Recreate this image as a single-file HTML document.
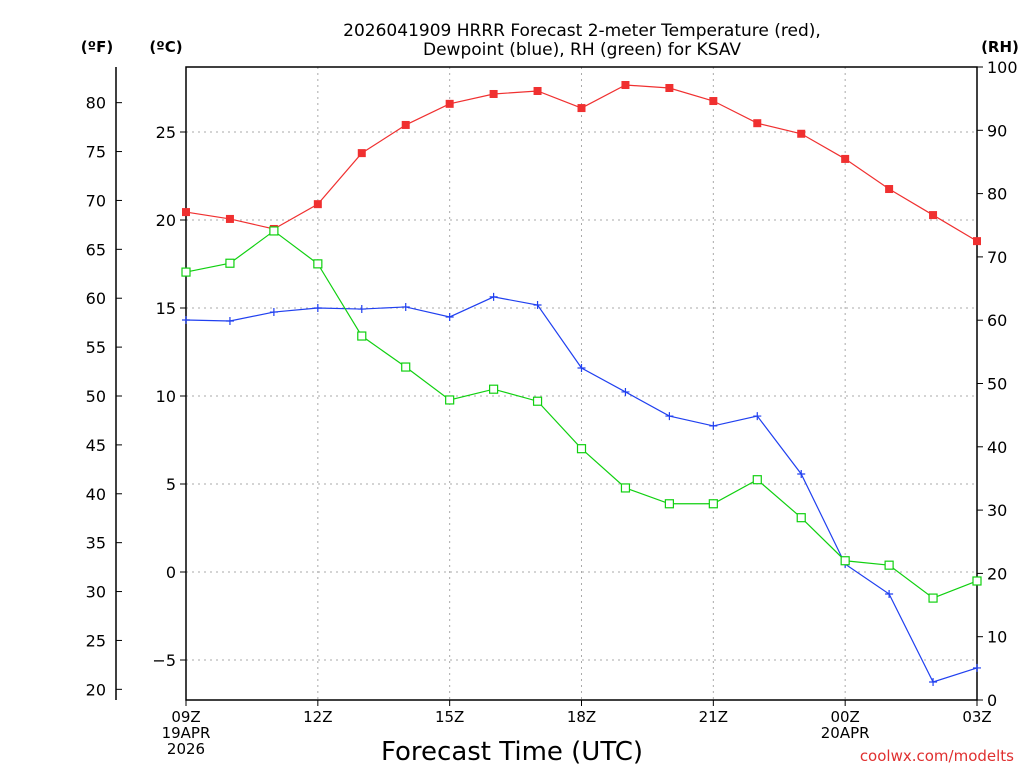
<!DOCTYPE html>
<html><head><meta charset="utf-8"><style>
body{margin:0;background:#fff;}
svg text{font-family:"DejaVu Sans","Liberation Sans",sans-serif;}
</style></head><body>
<svg id="chart" width="1024" height="768" xmlns="http://www.w3.org/2000/svg">
<g id="grid"></g>
<g id="axes"></g>
<g id="series"></g>
<text x="582" y="36" text-anchor="middle" font-size="17">2026041909 HRRR Forecast 2-meter Temperature (red),</text>
<text x="582" y="55" text-anchor="middle" font-size="17">Dewpoint (blue), RH (green) for KSAV</text>
<text x="97" y="52" text-anchor="middle" font-size="15" font-weight="bold">(ºF)</text>
<text x="166" y="52" text-anchor="middle" font-size="15" font-weight="bold">(ºC)</text>
<text x="1000" y="52" text-anchor="middle" font-size="15" font-weight="bold">(RH)</text>
<text x="512" y="760" text-anchor="middle" font-size="26">Forecast Time (UTC)</text>
<text x="1014" y="761" text-anchor="end" font-size="15" fill="#e03030">coolwx.com/modelts</text>
</svg>
<script>
const hours=[0,1,2,3,4,5,6,7,8,9,10,11,12,13,14,15,16,17,18];
const tempC=[20.45,20.06,19.49,20.9,23.8,25.4,26.6,27.16,27.33,26.36,27.67,27.5,26.76,25.5,24.9,23.47,21.76,20.28,18.8];
const dewC=[14.32,14.26,14.77,15,14.94,15.06,14.49,15.63,15.17,11.59,10.23,8.86,8.3,8.86,5.57,0.45,-1.25,-6.25,-5.45];
const rh=[67.6,69,74.1,68.9,57.5,52.6,47.4,49.1,47.2,39.7,33.5,31,31,34.8,28.8,22,21.3,16.1,18.8];
const cTicks=[25,20,15,10,5,0,-5];
const fTicks=[80,75,70,65,60,55,50,45,40,35,30,25,20];
const rhTicks=[100,90,80,70,60,50,40,30,20,10,0];
const xTickHours=[0,3,6,9,12,15,18];
const xTickLabels=[["09Z","19APR","2026"],["12Z"],["15Z"],["18Z"],["21Z"],["00Z","20APR"],["03Z"]];
const L=186,R=977,T=67,B=700;
const x=h=>L+h*(R-L)/18;
const yC=c=>572-c*17.6;
const yF=f=>yC((f-32)/1.8);
const yR=r=>B-r*(B-T)/100;
const NS="http://www.w3.org/2000/svg";
function mk(tag,attrs,parent,txt){const e=document.createElementNS(NS,tag);for(const k in attrs)e.setAttribute(k,attrs[k]);if(txt!==undefined)e.textContent=txt;document.getElementById(parent).appendChild(e);return e;}
// grid
xTickHours.slice(1,-1).forEach(h=>{const e=mk('line',{x1:x(h),x2:x(h),y1:T,y2:B,stroke:'#aaa','stroke-dasharray':'2,4'},'grid');

});
cTicks.forEach(c=>{const e=mk('line',{x1:L,x2:R,y1:yC(c),y2:yC(c),stroke:'#aaa','stroke-dasharray':'2,4'},'grid');

});
// frame
const fr=mk('rect',{x:L,y:T,width:R-L,height:B-T,fill:'none',stroke:'#000','stroke-width':1.5},'axes');


const fa=mk('line',{x1:116,x2:116,y1:T,y2:B,stroke:'#000','stroke-width':1.5},'axes');


cTicks.forEach(c=>{mk('line',{x1:L-6,x2:L,y1:yC(c),y2:yC(c),stroke:'#000'},'axes');
const t=mk('text',{x:L-10,y:yC(c)+6,'text-anchor':'end','font-size':16},'axes',c<0?'\u2212'+(-c):String(c));

});
fTicks.forEach(f=>{mk('line',{x1:116,x2:122,y1:yF(f),y2:yF(f),stroke:'#000'},'axes');
const t=mk('text',{x:106,y:yF(f)+6,'text-anchor':'end','font-size':16},'axes',String(f));

});
rhTicks.forEach(r=>{mk('line',{x1:R,x2:R+6,y1:yR(r),y2:yR(r),stroke:'#000'},'axes');
const t=mk('text',{x:987,y:yR(r)+6,'font-size':16},'axes',String(r));

});
xTickHours.forEach((h,i)=>{mk('line',{x1:x(h),x2:x(h),y1:B,y2:B+6,stroke:'#000'},'axes');
xTickLabels[i].forEach((s,j)=>{const t=mk('text',{x:x(h),y:722+j*16,'text-anchor':'middle','font-size':15},'axes',s);

});});
// series
function line(vals,yf,col,name){const pts=vals.map((v,i)=>x(hours[i])+','+yf(v)).join(' ');
const p=mk('polyline',{points:pts,fill:'none',stroke:col,'stroke-width':1.2},'series');

}
line(tempC,yC,'#f03030','temperature');
line(dewC,yC,'#2040f0','dewpoint');
line(rh,yR,'#10d010','rh');
tempC.forEach((v,i)=>{const m=mk('rect',{x:x(hours[i])-4,y:yC(v)-4,width:8,height:8,fill:'#f03030'},'series');

});
dewC.forEach((v,i)=>{const cx=x(hours[i]),cy=yC(v);const m=mk('path',{d:`M${cx-4},${cy}H${cx+4}M${cx},${cy-4}V${cy+4}`,stroke:'#2040f0','stroke-width':1.2},'series');

});
rh.forEach((v,i)=>{const m=mk('rect',{x:x(hours[i])-4,y:yR(v)-4,width:8,height:8,fill:'#fff',stroke:'#10d010','stroke-width':1.2},'series');

});
</script>
</body></html>
